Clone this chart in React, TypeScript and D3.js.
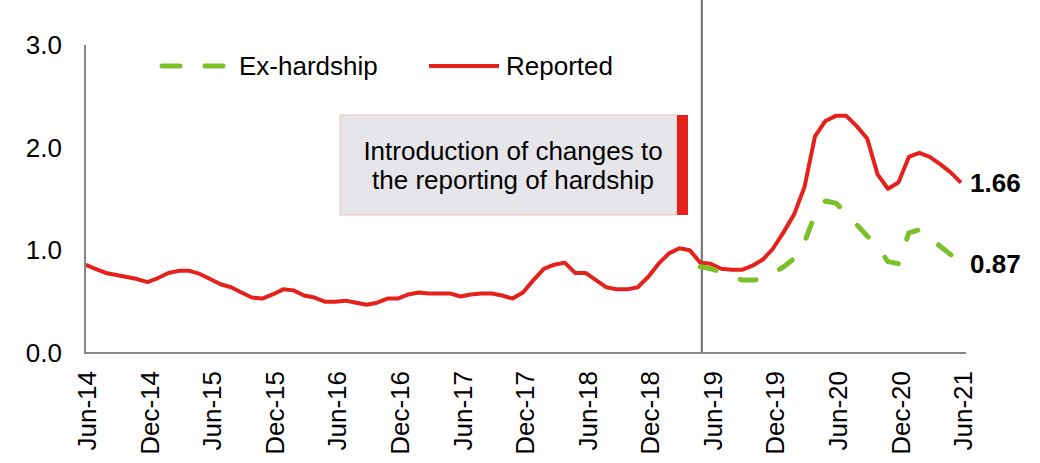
import React from "react";
import * as d3 from "d3";

// Monthly series, Jun-14 (index 0) to Jun-21 (index 84)
const reported: number[] = [
  0.86, 0.82, 0.78, 0.76, 0.74, 0.72, 0.69, 0.73, 0.78, 0.8,
  0.8, 0.77, 0.72, 0.67, 0.64, 0.59, 0.54, 0.53, 0.57, 0.62,
  0.61, 0.56, 0.54, 0.5, 0.5, 0.51, 0.49, 0.47, 0.49, 0.53,
  0.53, 0.57, 0.59, 0.58, 0.58, 0.58, 0.55, 0.57, 0.58, 0.58,
  0.56, 0.53, 0.59, 0.71, 0.82, 0.86, 0.88, 0.78, 0.78, 0.71,
  0.64, 0.62, 0.62, 0.64, 0.74, 0.87, 0.97, 1.02, 1.0, 0.88,
  0.87, 0.82, 0.81, 0.81, 0.85, 0.91, 1.02, 1.18, 1.35, 1.62,
  2.11, 2.26, 2.31, 2.31, 2.21, 2.09, 1.74, 1.6, 1.66, 1.91,
  1.95, 1.91, 1.84, 1.76, 1.66,
];
// Ex-hardship starts at May-19 (index 59)
const exHardshipStart = 59;
const exHardship: number[] = [
  0.84, 0.82, 0.79, 0.75, 0.71, 0.71, 0.72, 0.78, 0.84, 0.92,
  1.08, 1.35, 1.48, 1.46, 1.36, 1.25, 1.14, 1.03, 0.89, 0.87,
  1.17, 1.2, 1.12, 1.04, 0.96, 0.87,
];
const tickLabels: string[] = [
  "Jun-14", "Dec-14", "Jun-15", "Dec-15", "Jun-16", "Dec-16", "Jun-17", "Dec-17",
  "Jun-18", "Dec-18", "Jun-19", "Dec-19", "Jun-20", "Dec-20", "Jun-21",
];
const tickStep = 6;
const yTicks: number[] = [0, 1, 2, 3];
const changeIndex = 59.15;
const endLabels = [
  { text: "1.66", value: 1.66 },
  { text: "0.87", value: 0.87 },
];
const seriesNames = ["Ex-hardship", "Reported"];
const annotationLines = ["Introduction of changes to", "the reporting of hardship"];

const RED = "#E5211B";
const GREEN = "#7BC02A";
const AXIS = "#868686";
const FONT = "'Liberation Sans', Arial, sans-serif";

export default function App() {
  const W = 1040, H = 463;
  const x = d3.scaleLinear().domain([0, 84]).range([85, 961]);
  const y = d3.scaleLinear().domain([0, 3]).range([353, 45]);

  const line = d3
    .line<[number, number]>()
    .x((d) => x(d[0]))
    .y((d) => y(d[1]));

  const redPts: [number, number][] = reported.map((v, i) => [i, v]);
  const greenPts: [number, number][] = exHardship.map((v, i) => [i + exHardshipStart, v]);
  const lastIdx = reported.length - 1;

  return (
    <svg
      width={W}
      height={H}
      style={{ position: "absolute", left: 0, top: 0, background: "#fff" }}
      fontFamily={FONT}
    >
      {/* vertical change marker */}
      <line x1={x(changeIndex)} x2={x(changeIndex)} y1={0} y2={y(0)} stroke="#707070" strokeWidth={2} />

      {/* annotation box */}
      <rect x={340} y={115} width={337} height={100} fill="#E6E5E9" stroke="#F3C4C4" strokeWidth={1} />
      <rect x={677} y={115} width={11} height={100} fill={RED} />
      {annotationLines.map((t, i) => (
        <text key={t} x={513} y={160 + i * 29} fontSize={26} textAnchor="middle" fill="#000">
          {t}
        </text>
      ))}

      {/* series */}
      <path d={line(redPts) ?? ""} fill="none" stroke={RED} strokeWidth={4} strokeLinejoin="round" />
      <path
        d={line(greenPts) ?? ""}
        fill="none"
        stroke={GREEN}
        strokeWidth={5}
        strokeDasharray="16 26"
        strokeLinecap="round"
        strokeLinejoin="round"
      />

      {/* axes */}
      <line x1={x(0)} x2={x(0)} y1={y(3)} y2={y(0)} stroke={AXIS} strokeWidth={2} />
      <line x1={x(0) - 1} x2={x(lastIdx) + 5} y1={y(0)} y2={y(0)} stroke={AXIS} strokeWidth={2} />

      {yTicks.map((t) => (
        <text key={t} x={62} y={y(t)} dy="0.35em" fontSize={26} textAnchor="end" fill="#000">
          {t.toFixed(1)}
        </text>
      ))}

      {tickLabels.map((lab, k) => (
        <text
          key={lab}
          transform={`translate(${x(k * tickStep) + 2},371) rotate(-90)`}
          dy="0.35em"
          fontSize={26}
          textAnchor="end"
          fill="#000"
        >
          {lab}
        </text>
      ))}

      {/* end labels */}
      {endLabels.map((l) => (
        <text key={l.text} x={970} y={y(l.value)} dy="0.35em" fontSize={26} fontWeight="bold" fill="#000">
          {l.text}
        </text>
      ))}

      {/* legend */}
      <g>
        <line x1={162} x2={226} y1={66} y2={66} stroke={GREEN} strokeWidth={5} strokeDasharray="18 25" strokeLinecap="round" />
        <text x={239} y={66} dy="0.35em" fontSize={26} fill="#000">{seriesNames[0]}</text>
        <line x1={429} x2={499} y1={66} y2={66} stroke={RED} strokeWidth={4} />
        <text x={506} y={66} dy="0.35em" fontSize={26} fill="#000">{seriesNames[1]}</text>
      </g>
    </svg>
  );
}
